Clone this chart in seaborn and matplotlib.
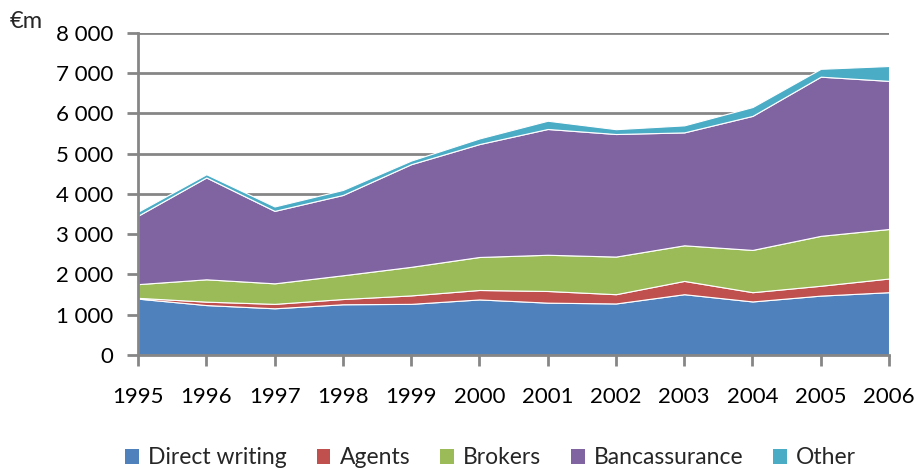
import numpy as np
import pandas as pd
import matplotlib
matplotlib.use("Agg")
import matplotlib.pyplot as plt
import seaborn as sns
from matplotlib.patches import Patch
from matplotlib.ticker import FuncFormatter

# Data (EUR millions)
years = [1995, 1996, 1997, 1998, 1999, 2000, 2001, 2002, 2003, 2004, 2005, 2006]
direct_writing = [1400, 1240, 1160, 1260, 1270, 1380, 1300, 1280, 1510, 1330, 1475, 1560]
agents = [20, 85, 110, 130, 210, 235, 290, 230, 330, 230, 245, 340]
brokers = [340, 555, 510, 590, 710, 820, 900, 935, 885, 1050, 1240, 1230]
bancassurance = [1700, 2530, 1800, 1995, 2550, 2805, 3125, 3045, 2805, 3330, 3955, 3680]
other = [100, 80, 110, 125, 90, 140, 205, 120, 175, 220, 195, 370]

series_names = ["Direct writing", "Agents", "Brokers", "Bancassurance", "Other"]
colors = ["#4F81BD", "#C0504D", "#9BBB59", "#8064A2", "#4BACC6"]

df = pd.DataFrame({
    "Direct writing": direct_writing,
    "Agents": agents,
    "Brokers": brokers,
    "Bancassurance": bancassurance,
    "Other": other,
}, index=years)

sns.set_theme(style="white")
plt.rcParams["font.family"] = ["Lato", "DejaVu Sans"]

fig = plt.figure(figsize=(9.17, 4.68), dpi=100)
ax = fig.add_axes([0.1505, 0.2415, 0.819, 0.688])

grid_col = "#868686"
for v in range(1000, 9000, 1000):
    ax.axhline(v, color=grid_col, lw=2, zorder=0)

ax.stackplot(df.index, [df[c].values for c in series_names], colors=colors,
             edgecolor="white", linewidth=0.8, zorder=2)

ax.set_xlim(1995, 2006)
ax.set_ylim(0, 8000)
ax.set_xticks(years)
ax.set_yticks(range(0, 9000, 1000))
ax.yaxis.set_major_formatter(FuncFormatter(lambda v, p: f"{int(v):,}".replace(",", " ")))

for side in ["top", "right"]:
    ax.spines[side].set_visible(False)
for side in ["left", "bottom"]:
    ax.spines[side].set_color(grid_col)
    ax.spines[side].set_linewidth(2)
    ax.spines[side].set_zorder(3)

ax.tick_params(axis="both", which="major", direction="out", length=8, width=2,
               color=grid_col, labelsize=16, labelcolor="black")
ax.tick_params(axis="x", pad=15, bottom=True)
ax.tick_params(axis="y", pad=10, left=True)

fig.text(0.011, 0.955, "€m", fontsize=17, ha="left", va="center")

handles = [Patch(facecolor=c, edgecolor="none") for c in colors]
fig.legend(handles, series_names, loc="lower center", bbox_to_anchor=(0.535, -0.045),
           ncol=5, frameon=False, fontsize=16.5, handlelength=0.6, handleheight=0.6,
           handletextpad=0.4, columnspacing=1.3)

fig.savefig("out.png", dpi=100)
